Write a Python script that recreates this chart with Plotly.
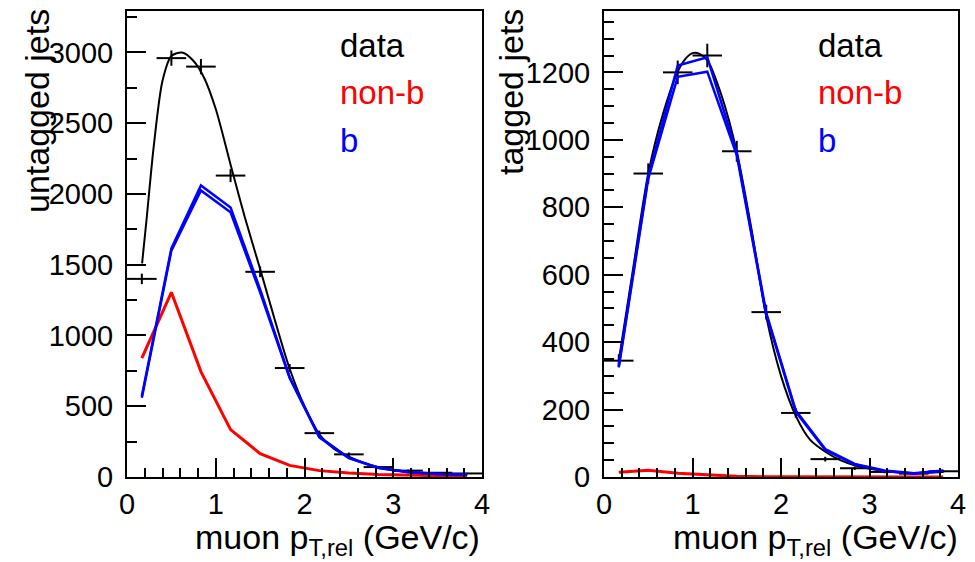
import plotly.graph_objects as go

W, H = 975, 562
FONT = "Liberation Sans, Arial, Helvetica, sans-serif"

# ---------------- data: left panel (untagged jets) ----------------
bin_x = [0.167, 0.5, 0.833, 1.167, 1.5, 1.833, 2.167, 2.5, 2.833, 3.167, 3.5, 3.833]
bin_half = [0.1667] * 12

data_untag = [1400, 2960, 2900, 2130, 1450, 770, 310, 160, 70, 45, 30, 25]
err_untag = [37, 54, 54, 46, 38, 28, 18, 13, 8, 7, 5, 5]

fit_untag_x = [0.17, 0.22, 0.3, 0.4, 0.5, 0.62, 0.75, 0.87, 1.0, 1.17, 1.33, 1.5,
               1.67, 1.83, 2.0, 2.17, 2.33, 2.5, 2.67, 2.83, 3.17, 3.5, 3.83]
fit_untag_y = [1510, 1818, 2330, 2800, 2975, 3000, 2940, 2820, 2600, 2200, 1830, 1470,
               1100, 770, 500, 300, 200, 144, 100, 70, 35, 20, 15]

nonb_untag = [840, 1305, 745, 335, 165, 82, 45, 28, 18, 12, 8, 5]
b_untag_hi = [570, 1615, 2060, 1905, 1325, 705, 285, 135, 65, 35, 22, 18]
b_untag_lo = [560, 1600, 2025, 1870, 1305, 700, 280, 133, 63, 34, 21, 17]

# ---------------- data: right panel (tagged jets) ----------------
data_tag = [345, 900, 1200, 1250, 966, 489, 190, 53, 26, 15, 10, 17]
err_tag = [19, 30, 35, 35, 31, 22, 14, 7, 5, 4, 3, 4]

fit_tag_x = [0.17, 0.33, 0.5, 0.67, 0.83, 0.92, 1.0, 1.08, 1.17, 1.33, 1.5, 1.67, 1.83,
             2.0, 2.17, 2.33, 2.5, 2.67, 2.83, 3.17, 3.5, 3.83]
fit_tag_y = [350, 620, 900, 1080, 1200, 1240, 1257, 1255, 1235, 1130, 965, 730, 480,
             300, 180, 110, 75, 50, 35, 18, 12, 15]

nonb_tag = [14, 20, 11, 6, 2, 1, 1, 0, 0, 0, 0, 0]
b_tag_hi = [330, 892, 1220, 1245, 962, 487, 197, 83, 39, 19, 11, 19]
b_tag_lo = [325, 885, 1187, 1202, 955, 482, 193, 80, 37, 18, 10, 18]

legend_labels = ["data", "non-b", "b"]
legend_colors = ["black", "red", "blue"]

# ---------------- figure ----------------
fig = go.Figure()


def add_panel(xa, ya, data, err, fx, fy, nonb, bhi, blo):
    fig.add_trace(go.Scatter(
        x=bin_x, y=data, mode="markers", xaxis=xa, yaxis=ya,
        marker=dict(size=1, color="black"),
        error_x=dict(type="data", array=bin_half, color="black", thickness=2, width=0),
        error_y=dict(type="data", array=err, color="black", thickness=2, width=0),
        showlegend=False, hoverinfo="skip"))
    fig.add_trace(go.Scatter(
        x=fx, y=fy, mode="lines", xaxis=xa, yaxis=ya,
        line=dict(color="black", width=2, shape="spline", smoothing=0.8),
        showlegend=False))
    fig.add_trace(go.Scatter(
        x=bin_x, y=nonb, mode="lines", xaxis=xa, yaxis=ya,
        line=dict(color="red", width=3), showlegend=False))
    for by in (bhi, blo):
        fig.add_trace(go.Scatter(
            x=bin_x, y=by, mode="lines", xaxis=xa, yaxis=ya,
            line=dict(color="blue", width=2.5), showlegend=False))


add_panel("x", "y", data_untag, err_untag, fit_untag_x, fit_untag_y,
          nonb_untag, b_untag_hi, b_untag_lo)
add_panel("x2", "y2", data_tag, err_tag, fit_tag_x, fit_tag_y,
          nonb_tag, b_tag_hi, b_tag_lo)

ydom = [85 / H, (H - 11) / H]
left_dom = [127 / W, 482 / W]
right_dom = [604 / W, 958 / W]

common_axis = dict(
    showline=True, linewidth=2, linecolor="black", mirror=True, automargin=False,
    showgrid=False, zeroline=False, ticks="inside", tickwidth=2,
    tickcolor="black", ticklen=19,
    tickfont=dict(family=FONT, size=29, color="black"),
)

xaxis_common = dict(common_axis, range=[0, 4], dtick=1, tick0=0,
                    minor=dict(dtick=0.2, tick0=0, ticks="inside", ticklen=9,
                               tickwidth=2, tickcolor="black", showgrid=False))

fig.update_layout(
    width=W, height=H,
    margin=dict(l=0, r=0, t=0, b=0, autoexpand=False),
    paper_bgcolor="white", plot_bgcolor="white",
    xaxis=dict(xaxis_common, domain=left_dom, anchor="y"),
    yaxis=dict(common_axis, domain=ydom, anchor="x", range=[0, 3293], dtick=500,
               ticklabelstandoff=6,
               minor=dict(dtick=250, ticks="inside", ticklen=10, tickwidth=2,
                          tickcolor="black", showgrid=False)),
    xaxis2=dict(xaxis_common, domain=right_dom, anchor="y2"),
    yaxis2=dict(common_axis, domain=ydom, anchor="x2", range=[0, 1382], dtick=200,
                ticklabelstandoff=6,
                minor=dict(dtick=50, ticks="inside", ticklen=10, tickwidth=2,
                           tickcolor="black", showgrid=False)),
)

ann = []
# y axis titles (right-aligned to top, as in ROOT)
for xpix, txt in [(37, "untagged jets"), (511, "tagged jets")]:
    ann.append(dict(xref="paper", yref="paper", x=xpix / W, y=1 - 7 / H,
                    xanchor="center", yanchor="top", textangle=-90, showarrow=False,
                    text=txt, font=dict(family=FONT, size=34, color="black")))
# x axis titles
for xpix in [482, 960]:
    ann.append(dict(xref="paper", yref="paper", x=xpix / W, y=1 - 539 / H,
                    xanchor="right", yanchor="middle", showarrow=False,
                    text="muon p<sub>T,rel</sub> (GeV/c)",
                    font=dict(family=FONT, size=34, color="black")))
# legends
for xpix in [338, 816]:
    for i, (lab, col) in enumerate(zip(legend_labels, legend_colors)):
        ann.append(dict(xref="paper", yref="paper", x=xpix / W, y=1 - (46 + 47 * i) / H,
                        xanchor="left", yanchor="middle", showarrow=False,
                        text=lab, font=dict(family=FONT, size=33, color=col)))
fig.update_layout(annotations=ann)

fig.write_html("out.html")
